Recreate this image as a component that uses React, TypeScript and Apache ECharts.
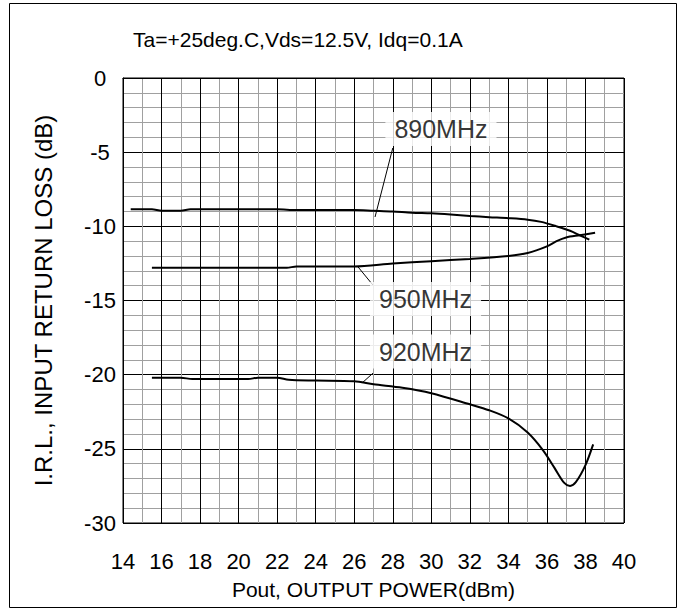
import React, { useEffect, useRef } from "react";
import * as echarts from "echarts";

const FONT = "'Liberation Sans', Arial, Helvetica, sans-serif";

const titleText = "Ta=+25deg.C,Vds=12.5V, Idq=0.1A";
const xName = "Pout, OUTPUT POWER(dBm)";
const yName = "I.R.L., INPUT RETURN LOSS (dB)";

const seriesNames = ["890MHz", "950MHz", "920MHz"];

const pout890 = [14.4, 15.5, 16, 17, 17.5, 20, 22, 23, 26, 27, 28, 29, 30, 31, 32, 33, 34, 35, 35.7, 36.5, 37.2, 37.7, 38.2];
const irl890 = [-8.85, -8.85, -8.95, -8.95, -8.85, -8.85, -8.85, -8.9, -8.9, -8.95, -9.0, -9.08, -9.12, -9.2, -9.3, -9.38, -9.45, -9.55, -9.7, -10.0, -10.3, -10.6, -10.9];

const pout950 = [15.5, 18, 20, 22.5, 23, 26, 28, 30, 32, 34, 35, 36, 36.5, 37, 37.7, 38.5];
const irl950 = [-12.8, -12.8, -12.8, -12.8, -12.7, -12.7, -12.5, -12.35, -12.2, -12.0, -11.8, -11.35, -11.0, -10.75, -10.6, -10.43];

const pout920 = [15.5, 17, 17.6, 20.5, 21, 22, 22.6, 24, 26, 27, 28.5, 30, 32, 33, 34, 35, 35.8, 36.4, 36.9, 37.2, 37.5, 38, 38.4];
const irl920 = [-20.2, -20.2, -20.3, -20.3, -20.2, -20.2, -20.35, -20.4, -20.45, -20.65, -20.88, -21.25, -22.0, -22.4, -22.95, -23.9, -25.1, -26.3, -27.3, -27.5, -27.25, -26.1, -24.7];

// label anchors and leader lines (data coordinates)
const labelAt = [
  [30.5, -3.44],
  [29.7, -14.9],
  [29.7, -18.44],
];
const leaderFrom = [
  [28.0, -4.72],
  [26.97, -13.96],
  [26.97, -19.9],
];
const leaderTo = [
  [27.08, -9.37],
  [26.2, -12.74],
  [26.4, -20.57],
];

const zip = (xs: number[], ys: number[]) => xs.map((x, i) => [x, ys[i]]);

export default function App() {
  const ref = useRef<HTMLDivElement>(null);
  useEffect(() => {
    if (!ref.current) return;
    const chart = echarts.init(ref.current, undefined, { renderer: "svg" });
    const curves = [zip(pout890, irl890), zip(pout950, irl950), zip(pout920, irl920)];
    const series: any[] = [];
    curves.forEach((d, i) => {
      series.push({
        name: seriesNames[i],
        type: "line",
        data: d,
        smooth: 0.3,
        showSymbol: false,
        lineStyle: { color: "#000", width: 2 },
        z: 3,
      });
    });
    seriesNames.forEach((n, i) => {
      series.push({
        type: "line",
        data: [leaderFrom[i], leaderTo[i]],
        showSymbol: false,
        lineStyle: { color: "#000", width: 1 },
        z: 2,
      });
      series.push({
        type: "scatter",
        data: [labelAt[i]],
        symbolSize: 1,
        itemStyle: { color: "rgba(0,0,0,0)" },
        z: 4,
        label: {
          show: true,
          position: "inside",
          formatter: n,
          color: "#000",
          fontFamily: FONT,
          fontSize: 25,
          lineHeight: 26,
          backgroundColor: "#fff",
          padding: [4, 9],
        },
      });
    });

    chart.setOption({
      animation: false,
      backgroundColor: "#fff",
      title: {
        text: titleText,
        left: 128,
        top: 24,
        textStyle: { fontFamily: FONT, fontSize: 21, fontWeight: "normal", color: "#000" },
      },
      grid: {
        left: 123,
        top: 78,
        width: 501,
        height: 445,
        show: true,
        borderColor: "#000",
        borderWidth: 1,
        backgroundColor: "transparent",
      },
      xAxis: {
        type: "value",
        min: 14,
        max: 40,
        interval: 2,
        name: xName,
        nameLocation: "middle",
        nameGap: 56,
        nameTextStyle: { fontFamily: FONT, fontSize: 21, color: "#000" },
        axisLine: { show: true, lineStyle: { color: "#000", width: 1 } },
        axisTick: { show: false },
        minorTick: { show: false, splitNumber: 2 },
        axisLabel: { fontFamily: FONT, fontSize: 22, color: "#000", margin: 27 },
        splitLine: { show: true, lineStyle: { color: "#000", width: 1 } },
        minorSplitLine: { show: true, lineStyle: { color: "#a0a0a0", width: 1 } },
      },
      yAxis: {
        type: "value",
        min: -30,
        max: 0,
        interval: 5,
        name: yName,
        nameLocation: "middle",
        nameGap: 68,
        nameTextStyle: { fontFamily: FONT, fontSize: 24, color: "#000" },
        axisLine: { show: true, lineStyle: { color: "#000", width: 1 } },
        axisTick: { show: false },
        minorTick: { show: false, splitNumber: 5 },
        axisLabel: { fontFamily: FONT, fontSize: 22, color: "#000", margin: 23, align: "center" },
        splitLine: { show: true, lineStyle: { color: "#000", width: 1 } },
        minorSplitLine: { show: true, lineStyle: { color: "#a0a0a0", width: 1 } },
      },
      graphic: [
        {
          type: "rect",
          shape: { x: 9.5, y: 3.5, width: 667, height: 604 },
          style: { fill: "none", stroke: "#000", lineWidth: 1 },
          silent: true,
        },
      ],
      series,
    });
    return () => chart.dispose();
  }, []);
  return (
    <div
      ref={ref}
      style={{ position: "absolute", left: 0, top: 0, width: 683, height: 612 }}
    />
  );
}
